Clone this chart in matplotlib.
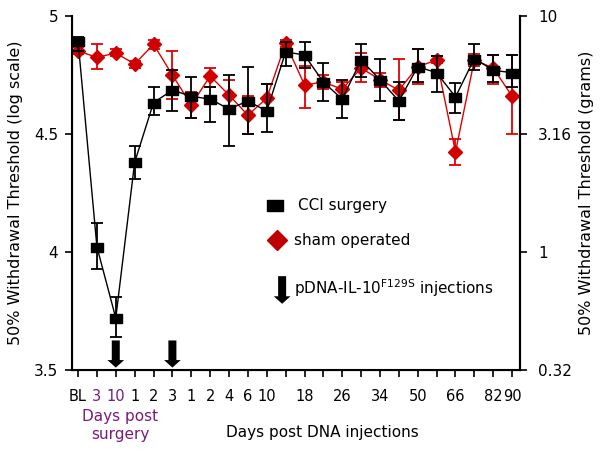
import matplotlib
matplotlib.use('Agg')
import matplotlib.pyplot as plt
from matplotlib.path import Path
import numpy as np

# x categories (BL, days post surgery, days post DNA injections)
tick_labels = ['BL', '3', '10', '1', '2', '3', '1', '2', '4', '6', '10', '',
               '18', '', '26', '', '34', '', '50', '', '66', '', '82', '90']
purple_ticks = [1, 2]
injection_idx = [2, 5]

# CCI surgery (log scale values) with error bar ends
cci = [4.895, 4.022, 3.72, 4.38, 4.633, 4.686, 4.66, 4.648, 4.606, 4.64, 4.597, 4.848,
       4.835, 4.72, 4.648, 4.814, 4.73, 4.64, 4.785, 4.76, 4.657, 4.82, 4.77, 4.76]
cci_hi = [4.91, 4.123, 3.81, 4.45, 4.70, 4.77, 4.74, 4.70, 4.75, 4.785, 4.71, 4.89,
          4.89, 4.80, 4.73, 4.88, 4.82, 4.72, 4.86, 4.83, 4.716, 4.88, 4.835, 4.835]
cci_lo = [4.85, 3.93, 3.64, 4.31, 4.58, 4.597, 4.57, 4.55, 4.45, 4.50, 4.51, 4.79,
          4.78, 4.64, 4.57, 4.74, 4.64, 4.56, 4.72, 4.68, 4.59, 4.77, 4.72, 4.70]

# sham operated
sham = [4.852, 4.825, 4.843, 4.797, 4.88, 4.75, 4.623, 4.746, 4.665, 4.58, 4.652, 4.885,
        4.708, 4.72, 4.69, 4.78, 4.73, 4.686, 4.785, 4.814, 4.424, 4.814, 4.78, 4.66]
sham_hi = [4.87, 4.88, 4.86, 4.81, 4.90, 4.85, 4.68, 4.78, 4.73, 4.66, 4.71, 4.90,
           4.79, 4.75, 4.72, 4.843, 4.76, 4.82, 4.86, 4.83, 4.48, 4.84, 4.835, 4.835]
sham_lo = [4.84, 4.775, 4.83, 4.78, 4.86, 4.65, 4.57, 4.70, 4.60, 4.50, 4.60, 4.87,
           4.61, 4.69, 4.66, 4.72, 4.70, 4.56, 4.71, 4.80, 4.37, 4.79, 4.71, 4.50]

left_ticks = [5, 4.5, 4, 3.5]
left_labels = ['5', '4.5', '4', '3.5']
right_labels = ['10', '3.16', '1', '0.32']

purple = '#7a1a7a'
red = '#e00000'
fs = 11

# wide flat square like the original markers
rect = Path([(-1, -0.72), (1, -0.72), (1, 0.72), (-1, 0.72), (-1, -0.72)],
            [Path.MOVETO, Path.LINETO, Path.LINETO, Path.LINETO, Path.CLOSEPOLY])

fig = plt.figure(figsize=(6, 4.59), dpi=100)
ax = fig.add_axes([0.12, 0.194, 0.7467, 0.771])

x = np.arange(len(tick_labels))
cci = np.array(cci)
sham = np.array(sham)
cci_err = [cci - np.array(cci_lo), np.array(cci_hi) - cci]
sham_err = [sham - np.array(sham_lo), np.array(sham_hi) - sham]

ax.errorbar(x, sham, yerr=sham_err, color=red, ecolor=red, elinewidth=1.3, capsize=4,
            capthick=1.3, marker='D', markersize=7, mfc='#d00000', mec='#d00000',
            lw=1, zorder=2)
ax.errorbar(x, cci, yerr=cci_err, color='black', ecolor='black', elinewidth=1.3, capsize=4,
            capthick=1.3, marker=rect, markersize=9, lw=1, zorder=3)

arrow_style = 'simple,head_width=1.0,head_length=0.45,tail_width=0.48'
for i in injection_idx:
    ax.annotate('', xy=(i, 3.51), xytext=(i, 3.625),
                arrowprops=dict(arrowstyle=arrow_style, mutation_scale=12,
                                color='black', lw=0, shrinkA=0, shrinkB=0))

ax.set_xlim(-0.32, 23.42)
ax.set_ylim(3.5, 5.0)
ax.set_xticks(x)
ax.set_xticklabels(tick_labels, fontsize=10.5)
for i in purple_ticks:
    ax.get_xticklabels()[i].set_color(purple)
ax.set_yticks(left_ticks)
ax.set_yticklabels(left_labels, fontsize=fs)
ax.tick_params(direction='out', length=5, width=1.2)
ax.tick_params(axis='x', pad=9)
ax.tick_params(axis='y', pad=5)
ax.spines['top'].set_visible(False)
for s in ['left', 'bottom', 'right']:
    ax.spines[s].set_linewidth(1.5)
ax.set_ylabel('50% Withdrawal Threshold (log scale)', fontsize=11.5, labelpad=8)

ax2 = ax.twinx()
ax2.set_ylim(3.5, 5.0)
ax2.set_yticks(left_ticks)
ax2.set_yticklabels(right_labels, fontsize=fs)
ax2.tick_params(direction='out', length=5, width=1.2, pad=8)
ax2.spines['top'].set_visible(False)
ax2.spines['right'].set_linewidth(1.5)
ax2.set_ylabel('50% Withdrawal Threshold (grams)', fontsize=11.5, rotation=90, labelpad=5)

# legend
ax.plot([0.453], [0.466], transform=ax.transAxes, marker=rect, color='black',
        markersize=11, ls='none')
ax.text(0.504, 0.466, 'CCI surgery', transform=ax.transAxes, fontsize=fs, va='center')
ax.plot([0.458], [0.367], transform=ax.transAxes, marker='D', color='#c00000',
        markersize=10, ls='none')
ax.text(0.496, 0.367, 'sham operated', transform=ax.transAxes, fontsize=fs, va='center')
ax.annotate('', xy=(0.469, 0.187), xytext=(0.469, 0.265), xycoords='axes fraction',
            arrowprops=dict(arrowstyle=arrow_style, mutation_scale=12,
                            color='black', lw=0, shrinkA=0, shrinkB=0))
ax.text(0.496, 0.232, 'pDNA-IL-10$^{\\mathrm{F129S}}$ injections', transform=ax.transAxes,
        fontsize=fs, va='center')

fig.text(0.2, 0.072, 'Days post\nsurgery', color=purple, fontsize=fs, ha='center',
         va='center', linespacing=1.25)
fig.text(0.537, 0.057, 'Days post DNA injections', fontsize=fs, ha='center', va='center')

fig.savefig('out.png', dpi=100)
